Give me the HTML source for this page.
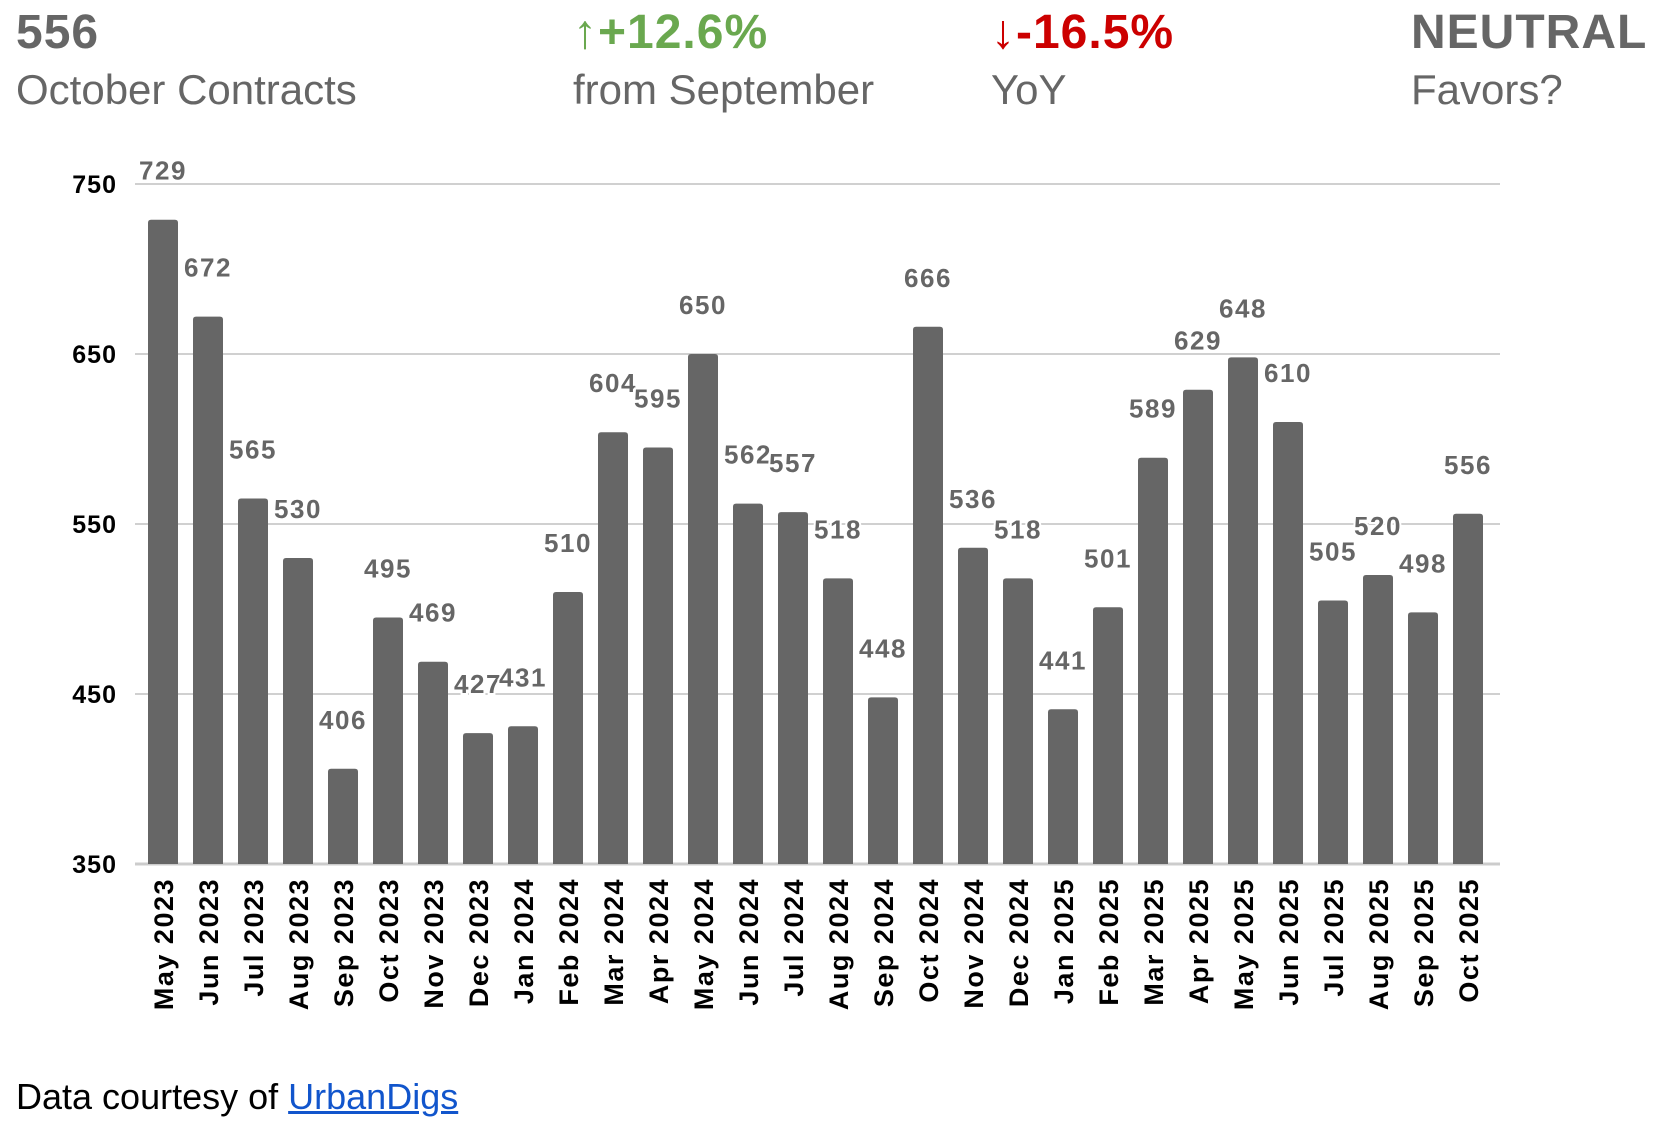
<!DOCTYPE html>
<html><head><meta charset="utf-8"><style>
body{margin:0;background:#fff;width:1670px;height:1132px;overflow:hidden;font-family:"Liberation Sans",sans-serif}
</style></head><body>
<svg width="1670" height="1132" xmlns="http://www.w3.org/2000/svg" font-family="Liberation Sans, sans-serif">
<g font-size="48" font-weight="bold" letter-spacing="1">
<text x="16" y="48" fill="#666">556</text>
<text x="573" y="48" fill="#6aa84f">↑+12.6%</text>
<text x="991" y="48" fill="#cc0000">↓-16.5%</text>
<text x="1411" y="48" fill="#666">NEUTRAL</text>
</g>
<g font-size="42" fill="#666">
<text x="16" y="104">October Contracts</text>
<text x="573" y="104">from September</text>
<text x="991" y="104">YoY</text>
<text x="1411" y="104">Favors?</text>
</g>
<g stroke="#d0d0d0" stroke-width="2">
<line x1="135" x2="1500" y1="184" y2="184"/>
<line x1="135" x2="1500" y1="354" y2="354"/>
<line x1="135" x2="1500" y1="524" y2="524"/>
<line x1="135" x2="1500" y1="694" y2="694"/>
<line x1="135" x2="1500" y1="864" y2="864" stroke="#ccc" stroke-width="3"/>
</g>
<g font-size="25" font-weight="bold" fill="#000" text-anchor="end" letter-spacing="1">
<text x="117" y="193">750</text>
<text x="117" y="363">650</text>
<text x="117" y="533">550</text>
<text x="117" y="703">450</text>
<text x="117" y="873">350</text>
</g>
<g id="bars"></g>
</svg>
<div style="position:absolute;left:16px;top:1076px;font-size:36px;color:#000">Data courtesy of <span style="color:#1155cc;text-decoration:underline">UrbanDigs</span></div>
<script>
const v=[729,672,565,530,406,495,469,427,431,510,604,595,650,562,557,518,448,666,536,518,441,501,589,629,648,610,505,520,498,556];
const m=["May 2023","Jun 2023","Jul 2023","Aug 2023","Sep 2023","Oct 2023","Nov 2023","Dec 2023","Jan 2024","Feb 2024","Mar 2024","Apr 2024","May 2024","Jun 2024","Jul 2024","Aug 2024","Sep 2024","Oct 2024","Nov 2024","Dec 2024","Jan 2025","Feb 2025","Mar 2025","Apr 2025","May 2025","Jun 2025","Jul 2025","Aug 2025","Sep 2025","Oct 2025"];
let s="";
v.forEach((d,i)=>{const cx=163+i*45.0;const top=864-(d-350)*1.70;
s+=`<path d="M${cx-15} 864 V${top+3} Q${cx-15} ${top} ${cx-12} ${top} H${cx+12} Q${cx+15} ${top} ${cx+15} ${top+3} V864 Z" fill="#666"/>`;
s+=`<text x="${cx}" y="${top-40}" text-anchor="middle" font-size="26" font-weight="bold" letter-spacing="1.5" fill="#666" stroke="#fff" stroke-width="4" paint-order="stroke">${d}</text>`;
s+=`<text transform="translate(${cx+10},878) rotate(-90)" text-anchor="end" font-size="27" font-weight="bold" letter-spacing="1.5" fill="#000">${m[i]}</text>`;});
document.getElementById("bars").innerHTML=s;
</script>
</body></html>
